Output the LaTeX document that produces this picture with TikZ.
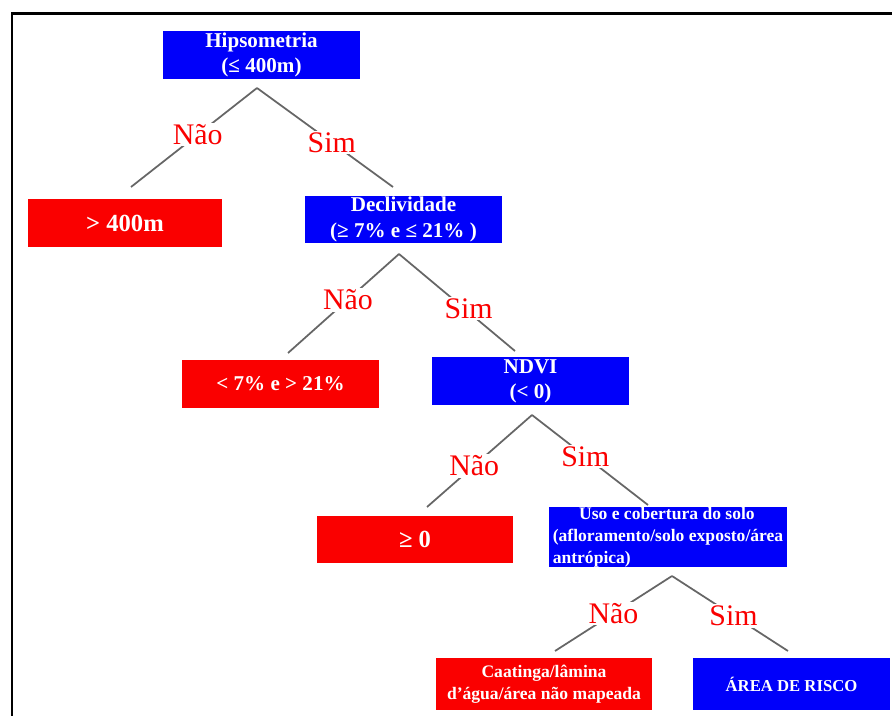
\documentclass[tikz,border=0pt]{standalone}
\usepackage{fontspec}
\setmainfont{Liberation Serif}
\definecolor{azul}{RGB}{0,0,250}
\definecolor{vermelho}{RGB}{250,0,0}
\tikzset{
  caixa/.style={inner sep=0pt, align=center, text=white,
    font=\bfseries\fontsize{12}{14.4}\selectfont},
  teste/.style={caixa, fill=azul},
  resultado/.style={caixa, fill=vermelho},
  ramo/.style={draw=black!60, line width=1pt},
  rotulo/.style={fill=white, text=vermelho, inner sep=1pt,
    font=\fontsize{17}{20}\selectfont}
}
\begin{document}
\begin{tikzpicture}[x=0.02cm,y=-0.02cm]
  \useasboundingbox (0,0) rectangle (892,716);

  % Frame (only left and top edges are visible)
  \draw[line width=1.7pt] (12,716) -- (12,13.5) -- (892,13.5);

  % Decision boxes (blue) and results (red)
  \node[teste, minimum width=3.94cm, minimum height=0.96cm]
    (hipso) at (261.5,55) {Hipsometria\\(≤ 400m)};
  \node[resultado, minimum width=3.88cm, minimum height=0.96cm,
    font=\bfseries\fontsize{14}{16}\selectfont]
    (acima) at (125,223) {> 400m};
  \node[teste, minimum width=3.94cm, minimum height=0.94cm]
    (decliv) at (403.5,219.5) {Declividade\\(≥ 7\% e ≤ 21\% )};
  \node[resultado, minimum width=3.94cm, minimum height=0.96cm]
    (fora) at (280.5,384) {< 7\% e > 21\%};
  \node[teste, minimum width=3.94cm, minimum height=0.96cm]
    (ndvi) at (530.5,381) {NDVI\\(< 0)};
  \node[resultado, minimum width=3.92cm, minimum height=0.94cm,
    font=\bfseries\fontsize{14}{16}\selectfont]
    (positivo) at (415,539.5) {≥ 0};
  \node[teste, minimum width=4.76cm, minimum height=1.2cm, align=left,
    font=\bfseries\fontsize{10}{12.5}\selectfont]
    (uso) at (668,537) {\hspace*{15pt}Uso e cobertura do solo\\(afloramento/solo exposto/área\\antrópica)};
  \node[resultado, minimum width=4.32cm, minimum height=1.04cm,
    font=\bfseries\fontsize{10}{12.5}\selectfont]
    (caatinga) at (544,684) {Caatinga/lâmina\\d'água/área não mapeada};
  \node[teste, minimum width=3.94cm, minimum height=1.04cm,
    font=\bfseries\fontsize{9.5}{12}\selectfont]
    (risco) at (791.5,684) {ÁREA DE RISCO};

  % Branch points and branch ends
  \coordinate (hipso-v) at (257,88);
  \coordinate (acima-t) at (131,187);
  \coordinate (decliv-t) at (393,187);
  \coordinate (decliv-v) at (399,254);
  \coordinate (fora-t) at (288,353);
  \coordinate (ndvi-t) at (515,351);
  \coordinate (ndvi-v) at (532,415);
  \coordinate (positivo-t) at (427,507);
  \coordinate (uso-t) at (648,505);
  \coordinate (uso-v) at (672,576);
  \coordinate (caatinga-t) at (555,651);
  \coordinate (risco-t) at (788,651);

  % Branches with their labels
  \draw[ramo] (hipso-v) -- node[rotulo, pos=0.47] (nao1) {Não} (acima-t);
  \draw[ramo] (hipso-v) -- node[rotulo, pos=0.55] (sim1) {Sim} (decliv-t);
  \draw[ramo] (decliv-v) -- node[rotulo, pos=0.46] (nao2) {Não} (fora-t);
  \draw[ramo] (decliv-v) -- node[rotulo, pos=0.6, yshift=2pt] (sim2) {Sim} (ndvi-t);
  \draw[ramo] (ndvi-v) -- node[rotulo, pos=0.55] (nao3) {Não} (positivo-t);
  \draw[ramo] (ndvi-v) -- node[rotulo, pos=0.46] (sim3) {Sim} (uso-t);
  \draw[ramo] (uso-v) -- node[rotulo, pos=0.5] (nao4) {Não} (caatinga-t);
  \draw[ramo] (uso-v) -- node[rotulo, pos=0.53] (sim4) {Sim} (risco-t);

\end{tikzpicture}
\end{document}
